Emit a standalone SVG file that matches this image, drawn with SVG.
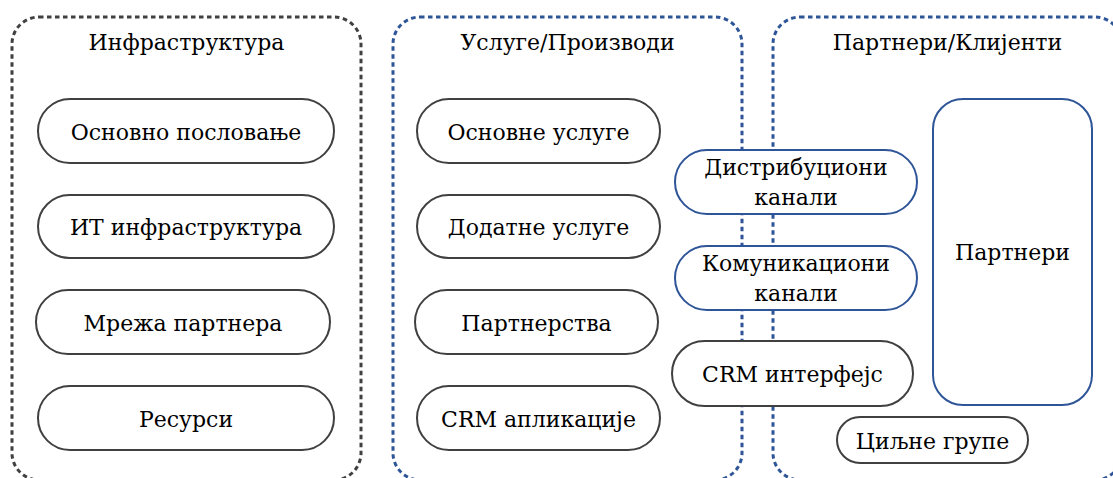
<svg xmlns="http://www.w3.org/2000/svg" width="1113" height="478" viewBox="0 0 1113 478">
<style>
.cont{fill:none;stroke-width:3;stroke-dasharray:4.5 3.5}
.gray{stroke:#404040}
.blue{stroke:#2E5597}
.node{fill:#fff;stroke-width:2}
.t{font-family:'DejaVu Serif',serif;font-size:22px;fill:#000;text-anchor:middle}
</style>
<rect width="1113" height="478" fill="#fff"/>
<g id="connectors"></g>
<g id="infra">
<rect class="cont gray" x="12" y="17" width="349" height="463" rx="27"/>
<text class="t" x="186.5" y="50">Инфраструктура</text>
</g>
<g id="services">
<rect class="cont blue" x="393" y="17" width="349" height="463" rx="27"/>
<text class="t" x="567.5" y="50">Услуге/Производи</text>
</g>
<g id="partners-clients">
<rect class="cont blue" x="773" y="17" width="349" height="463" rx="27"/>
<text class="t" x="947.5" y="50">Партнери/Клијенти</text>
</g>
<g id="n-osnovno"><rect class="node gray" x="38" y="99" width="296" height="64" rx="32"/><text class="t" x="186" y="140">Основно пословање</text></g>
<g id="n-it"><rect class="node gray" x="38" y="195" width="296" height="63" rx="31.5"/><text class="t" x="186" y="235">ИТ инфраструктура</text></g>
<g id="n-mreza"><rect class="node gray" x="36" y="290" width="294" height="64" rx="32"/><text class="t" x="183" y="331">Мрежа партнера</text></g>
<g id="n-resursi"><rect class="node gray" x="38" y="386" width="296" height="64" rx="32"/><text class="t" x="186" y="427">Ресурси</text></g>
<g id="n-osnovne"><rect class="node gray" x="417" y="99" width="243" height="64" rx="32"/><text class="t" x="538.5" y="140">Основне услуге</text></g>
<g id="n-dodatne"><rect class="node gray" x="417" y="195" width="243" height="63" rx="31.5"/><text class="t" x="538.5" y="235">Додатне услуге</text></g>
<g id="n-partnerstva"><rect class="node gray" x="415" y="290" width="243" height="64" rx="32"/><text class="t" x="536.5" y="331">Партнерства</text></g>
<g id="n-crmapp"><rect class="node gray" x="417" y="386" width="243" height="64" rx="32"/><text class="t" x="538.5" y="427">CRM апликације</text></g>
<g id="n-distrib"><rect class="node blue" x="675" y="150" width="242" height="64" rx="32"/><text class="t" x="796" y="175">Дистрибуциони</text><text class="t" x="796" y="205">канали</text></g>
<g id="n-komun"><rect class="node blue" x="675" y="246" width="242" height="64" rx="32"/><text class="t" x="796" y="271">Комуникациони</text><text class="t" x="796" y="301">канали</text></g>
<g id="n-crmint"><rect class="node gray" x="672" y="341" width="241" height="65" rx="32.5"/><text class="t" x="792.5" y="382">CRM интерфејс</text></g>
<g id="n-partneri"><rect class="node blue" x="933" y="99" width="159" height="306" rx="30"/><text class="t" x="1012.5" y="260">Партнери</text></g>
<g id="n-ciljne"><rect class="node gray" x="837" y="417" width="191" height="46" rx="23"/><text class="t" x="932.5" y="449">Циљне групе</text></g>
</svg>
